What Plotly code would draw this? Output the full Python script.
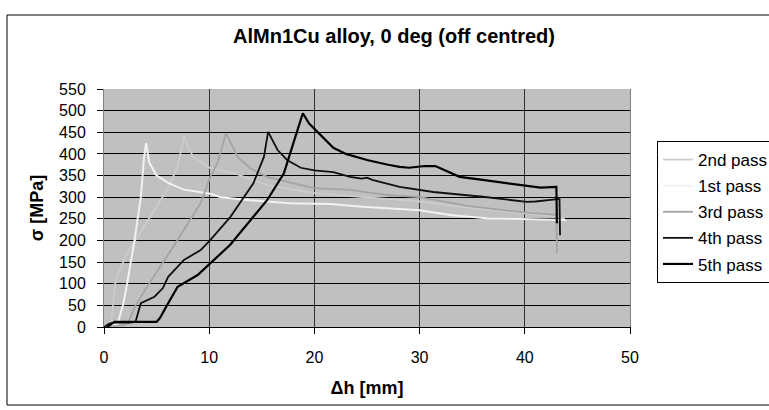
import plotly.graph_objects as go

# ---- data ----
x_1st = [0.3, 0.8, 1.3, 1.8, 2.2, 2.9, 3.5, 3.8, 4.0, 4.3, 5.0, 6.1, 7.5, 9.0, 10.1, 11.1, 13.9, 17.7, 21.5, 24.6, 27.0, 30.0, 32.9, 36.6, 38.5, 41.0, 43.9]
y_1st = [0, 5, 8, 50, 100, 200, 300, 390, 425, 380, 350, 333, 318, 312, 308, 300, 293, 286, 284, 278, 275, 270, 259, 251, 250, 248, 247]

x_2nd = [0.4, 0.7, 1.1, 2.2, 3.2, 6.0, 7.0, 7.6, 8.0, 8.5, 9.2, 10.1, 12.3, 15.5, 19.9, 23.0, 27.0, 30.0, 35.0, 40.0, 43.0, 43.8]
y_2nd = [0, 10, 108, 171, 209, 317, 370, 440, 415, 393, 382, 367, 356, 328, 310, 303, 296, 290, 275, 262, 255, 250]

x_3rd = [0.5, 2.0, 2.3, 3.0, 4.5, 7.0, 9.2, 10.1, 10.8, 11.6, 12.7, 13.9, 15.5, 19.9, 23.4, 27.0, 30.0, 34.5, 38.0, 40.7, 43.0, 43.05]
y_3rd = [0, 5, 10, 50, 108, 201, 287, 347, 380, 448, 393, 367, 347, 321, 317, 305, 300, 280, 270, 263, 259, 170]

x_4th = [0, 0.5, 1.0, 2.5, 3.0, 3.2, 3.5, 4.8, 5.6, 6.1, 7.6, 9.2, 10.1, 12.0, 14.2, 15.2, 15.6, 16.5, 17.4, 18.7, 20.0, 21.8, 23.4, 24.5, 25.0, 25.5, 28.1, 31.3, 36.0, 40.2, 41.0, 43.3, 43.35]
y_4th = [0, 8, 10, 10, 12, 30, 55, 70, 90, 116, 155, 178, 201, 254, 332, 393, 451, 409, 386, 368, 362, 358, 347, 343, 345, 340, 324, 312, 301, 289, 290, 296, 212]

x_5th = [0.3, 1.0, 5.0, 5.3, 6.1, 7.0, 8.9, 10.1, 12.0, 15.5, 17.1, 18.3, 18.9, 19.5, 20.1, 21.8, 23.0, 25.0, 27.0, 28.1, 29.0, 30.5, 31.5, 33.8, 36.0, 37.6, 40.0, 41.5, 43.0, 43.05]
y_5th = [0, 12, 12, 20, 55, 93, 120, 148, 190, 293, 355, 448, 494, 470, 455, 414, 400, 386, 375, 370, 368, 372, 372, 347, 340, 335, 328, 322, 324, 240]

series_names = ["2nd pass", "1st pass", "3rd pass", "4th pass", "5th pass"]
series_x = [x_2nd, x_1st, x_3rd, x_4th, x_5th]
series_y = [y_2nd, y_1st, y_3rd, y_4th, y_5th]
series_colors = ["#cccccc", "#f2f2f2", "#a4a4a4", "#101010", "#000000"]
series_widths = [1.8, 2.0, 1.8, 1.8, 2.2]

x_ticks = [0, 10, 20, 30, 40, 50]
y_ticks = [0, 50, 100, 150, 200, 250, 300, 350, 400, 450, 500, 550]

FONT = "Arial, Liberation Sans, sans-serif"

# plot area in page pixels
L, R, T, B = 104, 630, 89, 327
W, H = 769, 410
PW, PH = R - L, B - T

fig = go.Figure()
for i, (name, xs, ys, c, w) in enumerate(zip(series_names, series_x, series_y, series_colors, series_widths)):
    fig.add_trace(go.Scatter(x=xs, y=ys, mode="lines", name=name,
                             line=dict(color=c, width=w),
                             legendgroup="g%d" % i))

fig.update_layout(
    width=W, height=H,
    margin=dict(l=L, r=W - R, t=T, b=H - B, autoexpand=False),
    paper_bgcolor="white",
    plot_bgcolor="#c0c0c0",
    font=dict(family=FONT, size=16, color="black"),
    title=dict(text="<b>AlMn1Cu alloy, 0 deg (off centred)</b>",
               x=394 / W, xref="container", xanchor="center",
               y=1 - 36 / H, yref="container", yanchor="middle",
               font=dict(size=20, family=FONT)),
    showlegend=True,
    legend=dict(x=(657 - L) / PW, y=(B - 141) / PH, xanchor="left", yanchor="top",
                bgcolor="white", bordercolor="black", borderwidth=1,
                font=dict(size=17, family=FONT), tracegroupgap=1,
                itemwidth=30),
    xaxis=dict(range=[0, 50], tickvals=x_ticks, showgrid=True,
               gridcolor="#303030", gridwidth=1, zeroline=False,
               showline=True, linecolor="black", linewidth=1,
               ticks="outside", ticklen=6, tickcolor="black",
               ticklabelstandoff=10,
               title=dict(text="<b>Δh [mm]</b>", font=dict(size=18), standoff=16)),
    yaxis=dict(range=[0, 550], tickvals=y_ticks, showgrid=True,
               gridcolor="black", gridwidth=1, zeroline=False,
               showline=True, linecolor="#808080", linewidth=1, mirror=True,
               ticks="outside", ticklen=6, tickcolor="black",
               ticklabelstandoff=8,
               title=dict(text="<b>σ [MPa]</b>", font=dict(size=18), standoff=10)),
)

# outer chart border
fig.add_shape(type="rect", xref="paper", yref="paper",
              x0=(7 - L) / PW, x1=(790 - L) / PW,
              y0=(B - 405) / PH, y1=(B - 15) / PH,
              line=dict(color="black", width=1), fillcolor="rgba(0,0,0,0)",
              layer="below")

fig.write_html("out.html", config={"displayModeBar": False},
               post_script="document.body.style.margin='0';")
